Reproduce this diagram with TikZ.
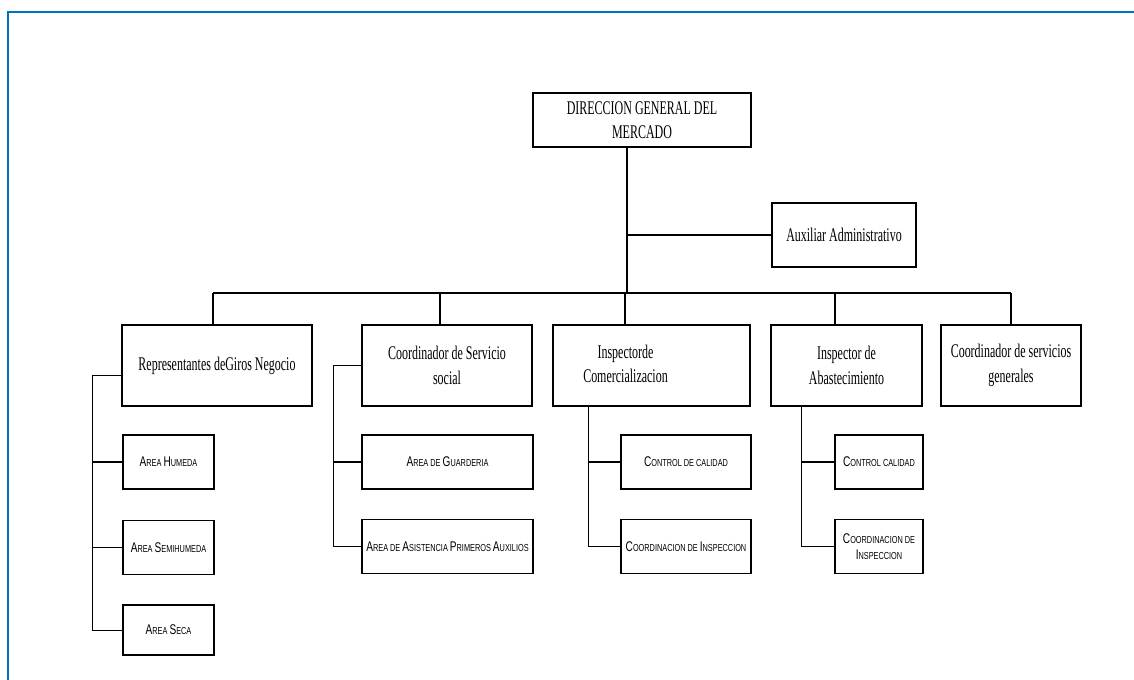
\documentclass[tikz,border=0pt]{standalone}
\usepackage{fontspec}
\setmainfont{Liberation Serif}[FakeStretch=0.62]
\newfontfamily\subfont{Liberation Sans}[FakeStretch=0.72]
\usepackage{tikz}
\usetikzlibrary{positioning, calc}
\usepackage{xcolor}
\definecolor{framebl}{RGB}{0,112,192}
\newcommand{\capl}[1]{{\fontsize{8}{9}\selectfont #1}}
\tikzset{
  unit/.style={rectangle, draw, line width=0.9pt, align=center,
    font=\fontsize{11}{14}\selectfont, inner sep=2pt, minimum height=1.62cm},
  sub/.style={rectangle, draw, line width=0.9pt, align=center,
    font=\subfont\fontsize{5.8}{9}\selectfont, inner sep=1pt, minimum height=1.08cm},
  link/.style={line width=0.7pt},
}

\begin{document}
\begin{tikzpicture}[x=0.02cm, y=-0.02cm]
  \useasboundingbox (0,0) rectangle (1134,680);
  % page frame
  \draw[framebl, line width=1.4pt] (8,680) -- (8,12) -- (1134,12);

  % Direction
  \node[unit, minimum width=4.36cm, minimum height=1.08cm] (dir) at (642,120) {DIRECCION GENERAL DEL\\MERCADO};
  \node[unit, minimum width=2.88cm, minimum height=1.28cm] (aux) at (844,235) {Auxiliar Administrativo};

  % Units
  \node[unit, minimum width=3.8cm] (rep) at (217,365.5) {Representantes deGiros Negocio};
  \node[unit, minimum width=3.4cm] (serv) at (447,365.5) {Coordinador de Servicio\\social};
  \node[unit, minimum width=3.94cm] (com) at (651.5,365.5) {\hspace*{-1.04cm}\begin{tabular}{@{}c@{}}Inspectorde\\Comercializacion\end{tabular}};
  \node[unit, minimum width=3.02cm] (abas) at (846.5,365.5) {Inspector de\\Abastecimiento};
  \node[unit, minimum width=2.8cm] (gen) at (1011,365.5) {Coordinador de servicios\\generales};

  % Areas
  \node[sub, minimum width=1.82cm] (hum) at (168.5,462) {\capl{A}REA \capl{H}UMEDA};
  \node[sub, minimum width=1.82cm, below=0.6cm of hum] (semi) {\capl{A}REA \capl{S}EMIHUMEDA};
  \node[sub, minimum width=1.82cm, minimum height=1.0cm, below=0.58cm of semi] (seca) {\capl{A}REA \capl{S}ECA};

  \node[sub, minimum width=3.42cm] (guar) at (447.5,462) {\capl{A}REA DE \capl{G}UARDERIA};
  \node[sub, minimum width=3.42cm, below=0.58cm of guar] (asis) {\capl{A}REA DE \capl{A}SISTENCIA \capl{P}RIMEROS \capl{A}UXILIOS};

  \node[sub, minimum width=2.6cm] (calc) at (686,462) {\capl{C}ONTROL DE CALIDAD};
  \node[sub, minimum width=2.6cm, below=0.58cm of calc] (insp) {\capl{C}OORDINACION DE \capl{I}NSPECCION};

  \node[sub, minimum width=1.76cm] (cala) at (879,462) {\capl{C}ONTROL CALIDAD};
  \node[sub, minimum width=1.76cm, below=0.58cm of cala] (inspa) {\capl{C}OORDINACION DE\\\capl{I}NSPECCION};

  % Connectors
  \coordinate (bus) at (0,293);
  \draw[link] ([xshift=-0.3cm]dir.south) coordinate (d0) -- (d0 |- bus);
  \draw[link] (aux.west) -- (aux.west -| d0);
  \draw[link] ([xshift=-0.08cm]rep.north |- bus) -- (gen.north |- bus);
  \draw[link] ([xshift=-0.08cm]rep.north) -- ([xshift=-0.08cm]rep.north |- bus);
  \draw[link] ([xshift=-0.14cm]serv.north) -- ([xshift=-0.14cm]serv.north |- bus);
  \draw[link] ([xshift=-0.53cm]com.north) -- ([xshift=-0.53cm]com.north |- bus);
  \draw[link] ([xshift=-0.23cm]abas.north) -- ([xshift=-0.23cm]abas.north |- bus);
  \draw[link] (gen.north) -- (gen.north |- bus);

  \draw[link] ([yshift=-0.2cm]rep.west) -- ++(-0.58cm,0) coordinate (s1) |- (seca.west);
  \draw[link] (s1) |- (hum.west);
  \draw[link] (s1) |- (semi.west);

  \draw[link] (serv.west) -- ++(-0.56cm,0) coordinate (s2) |- (asis.west);
  \draw[link] (s2) |- (guar.west);

  \draw[link] ([xshift=0.72cm]com.south west) |- (insp.west);
  \draw[link] ([xshift=0.72cm]com.south west) |- (calc.west);

  \draw[link] ([xshift=0.62cm]abas.south west) |- (inspa.west);
  \draw[link] ([xshift=0.62cm]abas.south west) |- (cala.west);
\end{tikzpicture}
\end{document}
